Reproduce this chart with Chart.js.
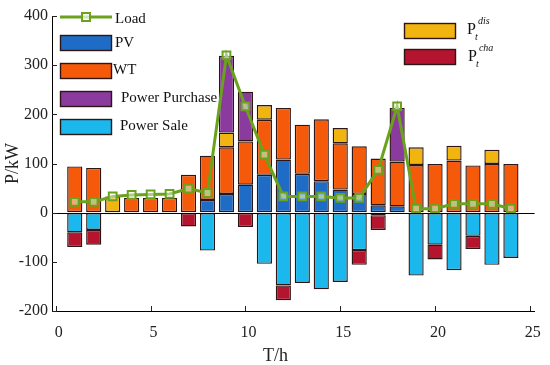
<!DOCTYPE html>
<html>
<head>
<meta charset="utf-8">
<script src="https://cdn.jsdelivr.net/npm/chart.js@4"></script>
<style>
html,body{margin:0;padding:0;background:#fff;}
canvas{display:block;}
</style>
</head>
<body>
<canvas id="c" width="550" height="365"></canvas>
<script>
// ---- data ----
const hours    = [1,2,3,4,5,6,7,8,9,10,11,12,13,14,15,16,17,18,19,20,21,22,23,24];
const load     = [22,22,33,36,37,38,49,40,320,216,118,33,33,33,30,30,87,216,8,8,18,18,18,8];
const pv       = [0,0,0,0,0,0,0,26,38,57,77,108,79,64,47,38,15,13,0,0,0,0,0,0];
const wt       = [94,91,0,30,30,30,77,90,95,88,112,105,100,126,94,97,95,91,97,99,106,96,99,99];
const pDis     = [0,0,33,0,0,0,0,0,30,0,30,0,0,0,31,0,0,0,36,0,30,0,29,0];
const purchase = [0,0,0,0,0,0,0,0,156,101,0,0,0,0,0,0,0,109,0,0,0,0,0,0];
const sale     = [-40,-35,0,0,0,0,0,-77,0,0,-104,-148,-143,-156,-141,-76,-5,0,-128,-65,-117,-47,-106,-92];
const pCha     = [-30,-30,-3,0,0,0,-28,0,0,-29,0,-30,0,0,0,-30,-30,0,0,-30,0,-27,0,0];
const xTicks   = [0,5,10,15,20,25];
const yTicks   = [-200,-100,0,100,200,300,400];
const seriesNames = ['Load','PV','WT','P_t^dis','Power Purchase','Power Sale','P_t^cha'];

const FONT = '"Liberation Serif", "Times New Roman", serif';
const COL = {
  load: '#6aa21e', pv: '#1e6cc5', wt: '#f55a0b', dis: '#f2b40e',
  purchase: '#8b3a9e', sale: '#1ab8ec', cha: '#b4142d', edge: '#2d1616'
};

const pts = arr => hours.map((h, i) => ({x: h, y: arr[i] === 0 ? null : arr[i]}));
const barDs = (label, arr, color) => ({
  type: 'bar', label, data: pts(arr), backgroundColor: color,
  borderColor: COL.edge, borderWidth: 1.4, borderSkipped: false,
  stack: 'energy', order: 2, barPercentage: 0.8, categoryPercentage: 1.0
});

const datasets = [
  {
    type: 'line', label: seriesNames[0], data: hours.map((h, i) => ({x: h, y: load[i]})),
    borderColor: COL.load, borderWidth: 3, fill: false, tension: 0,
    pointStyle: 'rect', pointRadius: 5.5, pointBorderWidth: 2,
    pointBorderColor: COL.load, pointBackgroundColor: 'rgba(255,255,255,0.45)',
    order: 0
  },
  barDs(seriesNames[1], pv, COL.pv),
  barDs(seriesNames[2], wt, COL.wt),
  barDs(seriesNames[3], pDis, COL.dis),
  barDs(seriesNames[4], purchase, COL.purchase),
  barDs(seriesNames[5], sale, COL.sale),
  barDs(seriesNames[6], pCha, COL.cha)
];

// axis decorations: zero line, inward tick marks, x title
const axisExtras = {
  id: 'axisExtras',
  afterDatasetsDraw(chart) {
    const {ctx, chartArea: a, scales: {x, y}} = chart;
    ctx.save();
    ctx.strokeStyle = '#000';
    ctx.lineWidth = 1;
    const y0 = Math.round(y.getPixelForValue(0)) + 0.5;
    ctx.beginPath(); ctx.moveTo(a.left, y0); ctx.lineTo(a.right, y0); ctx.stroke();
    ctx.strokeStyle = '#222';
    y.ticks.forEach(t => {
      const py = Math.round(y.getPixelForValue(t.value)) + 0.5;
      ctx.beginPath(); ctx.moveTo(a.left, py); ctx.lineTo(a.left + 5, py); ctx.stroke();
    });
    x.ticks.forEach(t => {
      const px = Math.round(x.getPixelForValue(t.value)) + 0.5;
      ctx.beginPath(); ctx.moveTo(px, a.bottom); ctx.lineTo(px, a.bottom - 5); ctx.stroke();
    });
    ctx.fillStyle = '#222';
    ctx.font = '18px ' + FONT;
    ctx.textBaseline = 'alphabetic';
    ctx.textAlign = 'left';
    ctx.fillText('T/h', 263, 361);
    ctx.restore();
  }
};

function drawLabel(ctx, text, x, cy) {
  const m = text.match(/^(\w+)_(\w+)\^(\w+)$/);
  ctx.textBaseline = 'middle';
  ctx.textAlign = 'left';
  if (!m) {
    ctx.font = '15px ' + FONT;
    ctx.fillText(text, x, cy);
    return;
  }
  ctx.font = '16px ' + FONT;
  ctx.fillText(m[1], x, cy);
  const w = ctx.measureText(m[1]).width;
  ctx.font = 'italic 10px ' + FONT;
  ctx.fillText(m[2], x + w - 1, cy + 7);
  ctx.fillText(m[3], x + w + 2, cy - 9);
}

const customLegend = {
  id: 'customLegend',
  afterDraw(chart) {
    const ctx = chart.ctx;
    const ds = chart.data.datasets;
    ctx.save();
    ctx.fillStyle = '#111';
    // Load entry (line + marker)
    ctx.strokeStyle = COL.load; ctx.lineWidth = 3;
    ctx.beginPath(); ctx.moveTo(60, 17); ctx.lineTo(112, 17); ctx.stroke();
    ctx.fillStyle = 'rgba(255,255,255,0.7)';
    ctx.fillRect(82, 13, 8, 8);
    ctx.lineWidth = 2; ctx.strokeRect(82, 13, 8, 8);
    ctx.fillStyle = '#111';
    drawLabel(ctx, ds[0].label, 115, 19);
    // left column bars
    const left = [[1, 35, 115, 43], [2, 63, 113, 70], [4, 91, 121, 98], [5, 119, 120, 126]];
    left.forEach(([i, sy, tx, ty]) => {
      ctx.fillStyle = ds[i].backgroundColor;
      ctx.fillRect(60, sy, 51, 15);
      ctx.strokeStyle = COL.edge; ctx.lineWidth = 1.4;
      ctx.strokeRect(60.5, sy + 0.5, 51, 15);
      ctx.fillStyle = '#111';
      drawLabel(ctx, ds[i].label, tx, ty);
    });
    // right column
    const right = [[3, 23, 467, 30], [6, 49, 468, 57]];
    right.forEach(([i, sy, tx, ty]) => {
      ctx.fillStyle = ds[i].backgroundColor;
      ctx.fillRect(404, sy, 51, 15);
      ctx.strokeStyle = COL.edge; ctx.lineWidth = 1.4;
      ctx.strokeRect(404.5, sy + 0.5, 51, 15);
      ctx.fillStyle = '#111';
      drawLabel(ctx, ds[i].label, tx, ty);
    });
    ctx.restore();
  }
};

new Chart(document.getElementById('c'), {
  data: {datasets},
  options: {
    responsive: false,
    animation: false,
    devicePixelRatio: 1,
    layout: {padding: {top: 16, right: 13, left: 0, bottom: 0}},
    plugins: {legend: {display: false}, tooltip: {enabled: false}},
    scales: {
      x: {
        type: 'linear', min: -0.2, max: 25.25, offset: false,
        afterBuildTicks: s => { s.ticks = xTicks.map(v => ({value: v})); },
        afterFit: s => { s.height = 54; },
        grid: {display: true, drawOnChartArea: false, drawTicks: false, offset: false},
        border: {display: true, color: '#000', width: 1},
        ticks: {font: {family: FONT, size: 16}, color: '#222', padding: 12, maxRotation: 0, labelOffset: 3}
      },
      y: {
        type: 'linear', min: -200, max: 400,
        afterBuildTicks: s => { s.ticks = yTicks.map(v => ({value: v})); },
        afterFit: s => { s.width = 52; },
        grid: {display: true, drawOnChartArea: false, drawTicks: false},
        border: {display: true, color: '#000', width: 1},
        ticks: {font: {family: FONT, size: 16}, color: '#222', padding: 4},
        title: {display: true, text: 'P/kW', font: {family: FONT, size: 18}, color: '#222', padding: {top: 2, bottom: 0}}
      }
    }
  },
  plugins: [axisExtras, customLegend]
});
</script>
</body>
</html>
